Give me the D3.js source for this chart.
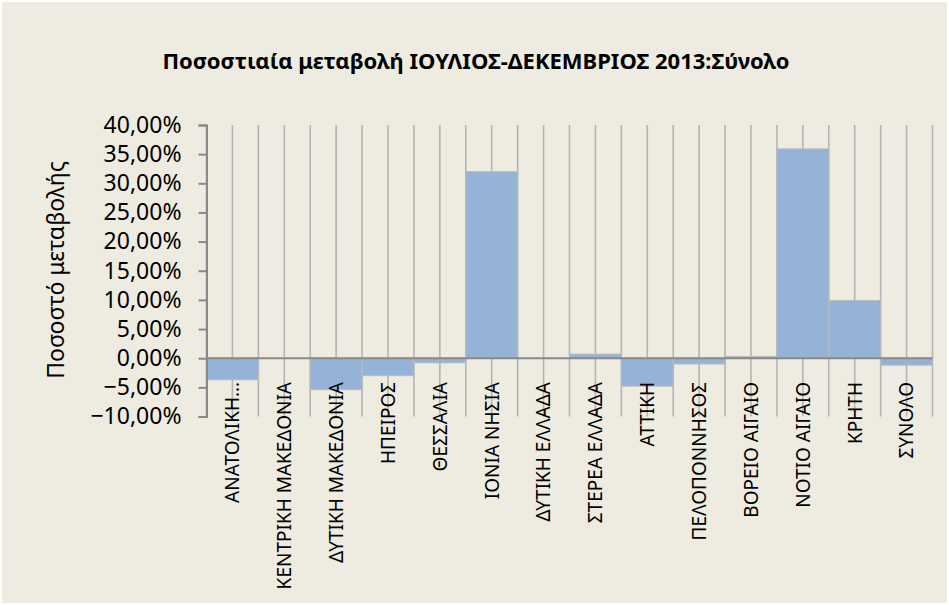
<!DOCTYPE html>
<meta charset="utf-8">
<style>
body { margin: 0; background: #fff; }
svg { display: block; }
text { font-family: "Noto Sans", sans-serif; fill: #000; }
</style>
<body>
<svg id="chart" width="949" height="605"></svg>
<script src="https://cdn.jsdelivr.net/npm/d3@7"></script>
<script>

var categories = ["ΑΝΑΤΟΛΙΚΗ…", "ΚΕΝΤΡΙΚΗ ΜΑΚΕΔΟΝΙΑ", "ΔΥΤΙΚΗ ΜΑΚΕΔΟΝΙΑ", "ΗΠΕΙΡΟΣ",
  "ΘΕΣΣΑΛΙΑ", "ΙΟΝΙΑ ΝΗΣΙΑ", "ΔΥΤΙΚΗ ΕΛΛΑΔΑ", "ΣΤΕΡΕΑ ΕΛΛΑΔΑ", "ΑΤΤΙΚΗ",
  "ΠΕΛΟΠΟΝΝΗΣΟΣ", "ΒΟΡΕΙΟ ΑΙΓΑΙΟ", "ΝΟΤΙΟ ΑΙΓΑΙΟ", "ΚΡΗΤΗ", "ΣΥΝΟΛΟ"];
var values = [-3.7, 0, -5.4, -3.0, -0.8, 32.0, 0, 0.7, -4.8, -1.0, 0.3, 35.9, 9.9, -1.2];
var yTicks = [-10, -5, 0, 5, 10, 15, 20, 25, 30, 35, 40];

var svg = d3.select("#chart");

svg.append("rect")
    .attr("x", 2).attr("y", 2)
    .attr("width", 945).attr("height", 601)
    .attr("fill", "#eeece1");

var x = d3.scaleBand()
    .domain(categories)
    .range([206.5, 932.5])
    .padding(0);

var y = d3.scaleLinear()
    .domain([-10, 40])
    .range([416.5, 125]);

// vertical gridlines, at band edges and band centres
var half = [];
categories.forEach(function(c) { half.push(x(c)); half.push(x(c) + x.bandwidth() / 2); });
half.push(x.range()[1]);

svg.append("g").selectAll("line")
    .data(half)
  .enter().append("line")
    .attr("x1", function(d) { return d; })
    .attr("x2", function(d) { return d; })
    .attr("y1", y(40))
    .attr("y2", y(-10))
    .attr("stroke", "#b4b4b4")
    .attr("stroke-width", 1.6);

svg.append("g").selectAll("rect")
    .data(values)
  .enter().append("rect")
    .attr("x", function(d, i) { return x(categories[i]); })
    .attr("width", x.bandwidth())
    .attr("y", function(d) { return y(Math.max(0, d)); })
    .attr("height", function(d) { return Math.abs(y(d) - y(0)); })
    .attr("fill", "#95b3d7")
    .attr("stroke", "#b9bcc0")
    .attr("stroke-width", 1);

// zero line
svg.append("line")
    .attr("x1", x.range()[0]).attr("x2", x.range()[1])
    .attr("y1", y(0)).attr("y2", y(0))
    .attr("stroke", "#898989")
    .attr("stroke-width", 2);

var yAxis = d3.axisLeft(y)
    .tickValues(yTicks)
    .tickSize(8)
    .tickPadding(17)
    .tickFormat(function(d) { return d3.format(".2f")(d).replace(".", ",") + "%"; });

var gy = svg.append("g")
    .attr("transform", "translate(" + x.range()[0] + ",0)")
    .call(yAxis);
gy.select(".domain").attr("stroke", "#898989").attr("stroke-width", 2);
gy.selectAll(".tick line").attr("stroke", "#898989").attr("stroke-width", 2);
gy.selectAll(".tick text")
    .style("font-family", "'Noto Sans', sans-serif")
    .style("font-size", "23px")
    .attr("fill", "#000");

// category labels
svg.append("g").selectAll("text")
    .data(categories)
  .enter().append("text")
    .attr("transform", function(d) {
      return "translate(" + (x(d) + x.bandwidth() / 2) + ",382) rotate(-90)";
    })
    .attr("text-anchor", "end")
    .attr("dy", "0.36em")
    .style("font-size", "19px")
    .text(function(d) { return d; });

svg.append("text")
    .attr("x", 476)
    .attr("y", 69)
    .attr("text-anchor", "middle")
    .style("font-size", "22px")
    .style("font-weight", "bold")
    .text("Ποσοστιαία μεταβολή ΙΟΥΛΙΟΣ-ΔΕΚΕΜΒΡΙΟΣ 2013:Σύνολο");

svg.append("text")
    .attr("transform", "translate(64,270) rotate(-90)")
    .attr("text-anchor", "middle")
    .style("font-size", "23px")
    .text("Ποσοστό μεταβολής");

</script>
</body>
